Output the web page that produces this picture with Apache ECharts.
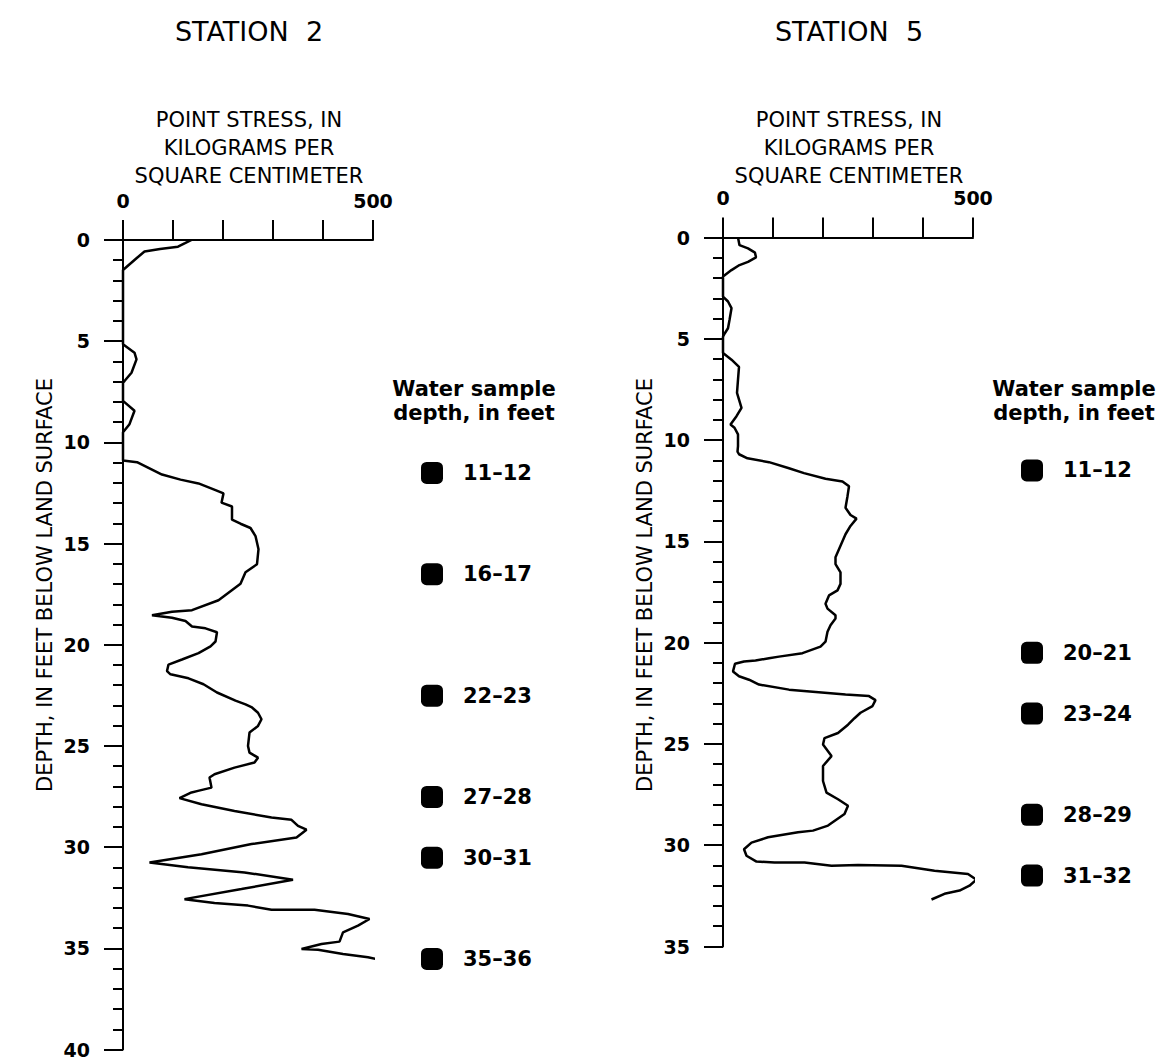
<!DOCTYPE html>
<html>
<head>
<meta charset="utf-8">
<script src="https://cdn.jsdelivr.net/npm/echarts@6/dist/echarts.min.js"></script>
<style>
  html, body { margin: 0; padding: 0; background: #fff; }
  #chart { width: 1163px; height: 1059px; }
</style>
</head>
<body>
<div id="chart"></div>
<script>
// Station 2 penetrometer log: depth (ft) and point stress (kg/cm2)
const st2Depth = [
  0, 0.16, 0.33, 0.44, 0.57, 0.9, 1.48, 5.15, 5.57, 5.9, 6.56, 6.97, 7.05,
  7.95, 8.44, 9.1, 9.5, 10.9, 10.98, 11.22, 11.59, 11.84, 12.03, 12.36, 12.52,
  12.98, 13.17, 13.82, 14.02, 14.23, 14.63, 15.28, 16.02, 16.42, 16.99, 17.8,
  18.29, 18.37, 18.54, 18.67, 18.83, 19.1, 19.19, 19.38, 19.84, 20.08, 20.41,
  20.73, 20.98, 21.3, 21.46, 21.66, 21.95, 22.36, 22.76, 22.95, 23.1, 23.36,
  23.68, 24.01, 24.34, 25.0, 25.33, 25.58, 25.82, 26.07, 26.4, 26.56, 27.06,
  27.22, 27.3, 27.58, 27.88, 28.21, 28.54, 28.65, 28.95, 29.14, 29.52, 29.85,
  30.35, 30.76, 31.0, 31.25, 31.61, 32.07, 32.57, 32.76, 32.89, 33.09, 33.09,
  33.3, 33.55, 33.88, 34.21, 34.67, 34.79, 35.03, 35.07, 35.28, 35.44, 35.77
];
const st2Stress = [
  137, 124, 110, 74, 43, 27, 0, 0, 23, 27, 17, 3, 0,
  0, 23, 13, 0, 0, 28, 48, 78, 115, 151, 185, 201,
  197, 218, 218, 235, 255, 265, 271, 268, 245, 235, 191,
  138, 98, 58, 98, 125, 138, 165, 188, 185, 175, 151,
  118, 91, 88, 95, 131, 161, 188, 225, 245, 258, 270,
  277, 270, 253, 250, 253, 270, 263, 223, 183, 173, 177,
  150, 137, 113, 157, 223, 297, 337, 350, 367, 347, 257,
  157, 53, 130, 243, 340, 237, 123, 183, 250, 297, 383,
  450, 493, 470, 440, 433, 397, 357, 390, 440, 490, 553
];

// Station 5
const st5Depth = [
  0, 0.38, 0.54, 0.75, 0.98, 1.2, 1.36, 1.61, 1.93, 2.92, 3.16, 3.49, 4.07,
  4.48, 4.75, 4.9, 5.7, 6.03, 6.39, 7.02, 7.67, 8.41, 8.82, 9.23, 9.39, 9.72,
  10.3, 10.57, 10.7, 10.9, 11.09, 11.39, 11.63, 11.91, 12.04, 12.28, 12.77,
  13.34, 13.7, 13.88, 14.24, 14.65, 15.22, 15.79, 16.12, 16.53, 17.1, 17.42,
  17.67, 18.08, 18.32, 18.65, 18.81, 19.14, 19.46, 19.95, 20.2, 20.52, 20.69,
  20.77, 20.88, 20.93, 21.04, 21.42, 21.66, 21.83, 22.07, 22.32, 22.56, 22.64,
  22.84, 23.13, 23.46, 23.73, 24.05, 24.46, 24.71, 25.03, 25.6, 26.09, 26.83,
  27.4, 27.73, 28.05, 28.46, 29.03, 29.28, 29.36, 29.61, 29.87, 30.2, 30.52,
  30.81, 30.85, 30.85, 31.01, 30.98, 31.01, 31.26, 31.42, 31.7, 32.0, 32.24,
  32.4, 32.68
];
const st5Stress = [
  30, 33, 50, 64, 66, 50, 33, 17, 0, 0, 10, 17, 13,
  10, 3, 0, 0, 17, 32, 30, 28, 37, 27, 15, 23, 30,
  30, 29, 32, 49, 92, 132, 162, 205, 239, 252, 249,
  245, 255, 267, 255, 245, 235, 225, 225, 235, 235, 229,
  212, 205, 209, 225, 225, 215, 209, 205, 195, 159, 112,
  92, 65, 42, 24, 20, 32, 52, 72, 132, 245, 292,
  305, 299, 275, 263, 250, 230, 203, 200, 217, 200, 200,
  207, 230, 250, 243, 210, 180, 150, 90, 57, 42, 47,
  67, 103, 163, 217, 270, 357, 423, 490, 507, 493, 473,
  443, 417
];

// Water sample intervals (ft)
const st2SampleTop = [11, 16, 22, 27, 30, 35];
const st5SampleTop = [11, 20, 23, 28, 31];

// Tick labels
const stressLabels = [0, 500];
const st2DepthMax = 40;
const st5DepthMax = 35;

const FONT = "DejaVu Sans";
const INK = "#000";

function zip(depth, stress) {
  return depth.map((d, i) => [stress[i], d]);
}
function samples(tops) {
  return tops.map(t => ({ name: t + "\u2013" + (t + 1), value: [0, t + 0.5] }));
}

const panels = [
  { left: 123, top: 240, height: 810, max: st2DepthMax, data: zip(st2Depth, st2Stress),
    samples: samples(st2SampleTop), title: "STATION  2" },
  { left: 723, top: 237.5, height: 709, max: st5DepthMax, data: zip(st5Depth, st5Stress),
    samples: samples(st5SampleTop), title: "STATION  5" }
];

const grid = [], xAxis = [], yAxis = [], series = [], graphic = [];

panels.forEach((p, i) => {
  // main plot
  grid.push({ left: p.left, top: p.top, width: 250, height: p.height });
  xAxis.push({
    gridIndex: grid.length - 1, type: "value", position: "top", min: 0, max: 500, interval: 100,
    axisLine: { show: true, lineStyle: { color: INK, width: 2 } },
    axisTick: { show: true, length: 20, lineStyle: { color: INK, width: 2 } },
    splitLine: { show: false },
    axisLabel: {
      margin: 30, fontFamily: FONT, fontSize: 19, fontWeight: "bold", color: INK,
      formatter: v => (stressLabels.includes(v) ? String(v) : "")
    }
  });
  yAxis.push({
    gridIndex: grid.length - 1, type: "value", inverse: true, min: 0, max: p.max, interval: 5,
    axisLine: { show: true, onZero: false, lineStyle: { color: INK, width: 2 } },
    axisTick: { show: true, length: 19, lineStyle: { color: INK, width: 2 } },
    minorTick: { show: true, splitNumber: 5, length: 10, lineStyle: { color: INK, width: 2 } },
    splitLine: { show: false },
    axisLabel: { margin: 33, fontFamily: FONT, fontSize: 19, fontWeight: "bold", color: INK }
  });
  series.push({
    type: "line", xAxisIndex: xAxis.length - 1, yAxisIndex: yAxis.length - 1,
    data: p.data, showSymbol: false, clip: false, smooth: false,
    lineStyle: { color: INK, width: 2.5 }
  });

  // sample-depth marker column
  grid.push({ left: p.left + 259, top: p.top, width: 100, height: p.height });
  xAxis.push({ gridIndex: grid.length - 1, type: "value", min: -1, max: 1, show: false });
  yAxis.push({ gridIndex: grid.length - 1, type: "value", inverse: true, min: 0, max: p.max, show: false });
  series.push({
    type: "scatter", xAxisIndex: xAxis.length - 1, yAxisIndex: yAxis.length - 1,
    data: p.samples, symbol: "roundRect", symbolSize: 22,
    itemStyle: { color: INK, opacity: 1 },
    label: {
      show: true, position: "right", distance: 20, formatter: "{b}",
      fontFamily: FONT, fontSize: 21, fontWeight: "bold", color: INK
    }
  });

  const cx = p.left + 126;
  graphic.push(
    { type: "text", x: cx, y: 31,
      style: { text: p.title, font: "27px " + FONT, fill: INK, align: "center", verticalAlign: "middle",
               textAlign: "center", textVerticalAlign: "middle" } },
    { type: "text", x: cx, y: 148,
      style: { text: "POINT STRESS, IN\nKILOGRAMS PER\nSQUARE CENTIMETER", font: "21px " + FONT,
               lineHeight: 28, fill: INK, align: "center", verticalAlign: "middle",
               textAlign: "center", textVerticalAlign: "middle" } },
    { type: "text", x: p.left - 78, y: 585, rotation: Math.PI / 2,
      style: { text: "DEPTH, IN FEET BELOW LAND SURFACE", font: "21px " + FONT, fill: INK,
               align: "center", verticalAlign: "middle", textAlign: "center", textVerticalAlign: "middle" } },
    { type: "text", x: p.left + 351, y: 401,
      style: { text: "Water sample\ndepth, in feet", font: "bold 21px " + FONT, lineHeight: 24, fill: INK,
               align: "center", verticalAlign: "middle", textAlign: "center", textVerticalAlign: "middle" } }
  );
});

const chart = echarts.init(document.getElementById("chart"), null, { renderer: "svg" });
chart.setOption({
  backgroundColor: "#fff",
  animation: false,
  grid, xAxis, yAxis, series, graphic
});
</script>
</body>
</html>
